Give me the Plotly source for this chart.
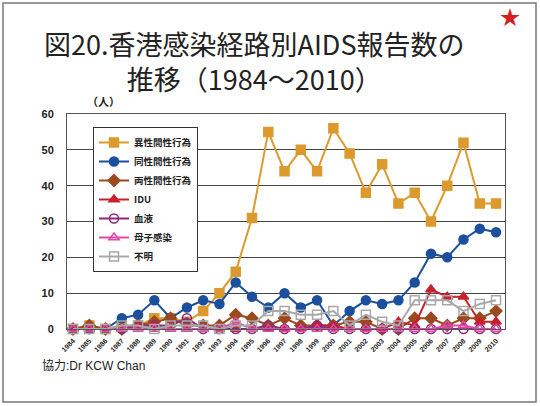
import plotly.graph_objects as go

# Data
years = [str(y) for y in range(1984, 2011)]
hetero = [0, 1, 0, 1, 1, 3, 3, 2, 5, 10, 16, 31, 55, 44, 50, 44, 56, 49, 38, 46, 35, 38, 30, 40, 52, 35, 35]
homo = [0, 0, 0, 3, 4, 8, 3, 6, 8, 7, 13, 9, 6, 10, 6, 8, 1, 5, 8, 7, 8, 13, 21, 20, 25, 28, 27]
bisex = [0, 1, 0, 0, 1, 2, 3, 1, 1, 1, 4, 3, 1, 3, 1, 1, 1, 2, 2, 0, 0, 3, 3, 1, 3, 3, 5]
idu = [0, 0, 0, 0, 1, 1, 0, 0, 0, 0, 0, 0, 0, 0, 0, 1, 1, 0, 0, 0, 2, 1, 11, 9, 9, 2, 2]
blood = [0, 0, 0, 0, 1, 1, 1, 3, 0, 0, 0, 0, 1, 0, 0, 1, 0, 0, 0, 0, 0, 0, 0, 0, 0, 0, 0]
mother = [0, 0, 0, 0, 0, 0, 0, 0, 0, 0, 2, 0, 0, 0, 0, 0, 0, 0, 0, 0, 0, 0, 0, 1, 1, 0, 0]
unknown = [0, 0, 0, 1, 1, 0, 1, 1, 1, 0, 1, 1, 5, 5, 4, 4, 5, 1, 4, 2, 1, 8, 8, 8, 5, 7, 8]

series = [
    ("異性間性行為", hetero, "#dc9a2e", "square"),
    ("同性間性行為", homo, "#1c4f9c", "circle"),
    ("両性間性行為", bisex, "#9a4a1e", "diamond"),
    ("IDU", idu, "#c8202c", "triangle-up"),
    ("血液", blood, "#8a2a7c", "circle-open"),
    ("母子感染", mother, "#e04aa6", "triangle-up-open"),
    ("不明", unknown, "#a8a8a8", "square-open"),
]

fig = go.Figure()
for name, vals, col, sym in series:
    fig.add_scatter(
        x=years, y=vals, name=name, mode="lines+markers",
        line=dict(color=col, width=2),
        marker=dict(symbol=sym, size=9, color=col, line=dict(color=col, width=1.5)),
        cliponaxis=False,
    )

# plot area in pixels
L, T, W, H = 67, 114, 438, 215

def px(x):
    return (x - L) / W

def py(y):
    return 1 - (y - T) / H

fig.update_layout(
    width=540, height=406,
    margin=dict(l=L, r=540 - L - W, t=T, b=406 - T - H),
    paper_bgcolor="white", plot_bgcolor="white",
    font=dict(family="Noto Sans CJK JP", color="#222"),
    showlegend=True,
    legend=dict(
        x=px(93), y=py(127), xanchor="left", yanchor="top",
        bordercolor="#333", borderwidth=1, bgcolor="white",
        font=dict(size=9.5, weight="bold", color="#222"),
        tracegroupgap=0, itemwidth=30,
    ),
    shapes=[
        dict(type="rect", xref="paper", yref="paper",
             x0=px(3), x1=px(536), y0=py(402), y1=py(3),
             line=dict(color="#777", width=1.5)),
    ],
    annotations=[
        dict(text="図20.香港感染経路別AIDS報告数の<br>推移（1984～2010）",
             xref="paper", yref="paper", x=px(254), y=py(22),
             xanchor="center", yanchor="top", showarrow=False,
             font=dict(size=27, color="#222"), align="center"),
        dict(text="★", xref="paper", yref="paper", x=px(510), y=py(16),
             xanchor="center", yanchor="middle", showarrow=False,
             font=dict(size=20, color="#d42020")),
        dict(text="（人）", xref="paper", yref="paper", x=px(103), y=py(101),
             xanchor="center", yanchor="middle", showarrow=False,
             font=dict(size=11, weight="bold")),
        dict(text="協力:Dr KCW Chan", xref="paper", yref="paper", x=px(40), y=py(365),
             xanchor="left", yanchor="middle", showarrow=False,
             font=dict(size=12, family="Liberation Sans, Noto Sans CJK JP")),
    ],
)

fig.update_xaxes(
    type="category", range=[-0.37, 26.55], showgrid=False,
    tickangle=-45, tickfont=dict(size=7, weight="bold", family="Liberation Sans"),
    ticklabelstandoff=4,
    showline=True, linecolor="#555", mirror=True, ticks="",
)
fig.update_yaxes(
    range=[0, 60], dtick=10, showgrid=True, gridcolor="#444", gridwidth=1,
    tickfont=dict(size=11, weight="bold", family="Liberation Sans"),
    ticklabelstandoff=10,
    showline=True, linecolor="#555", mirror=True, zeroline=False,
)

fig.write_html("out.html", config={"displayModeBar": False},
               post_script="document.body.style.margin='0px';")
